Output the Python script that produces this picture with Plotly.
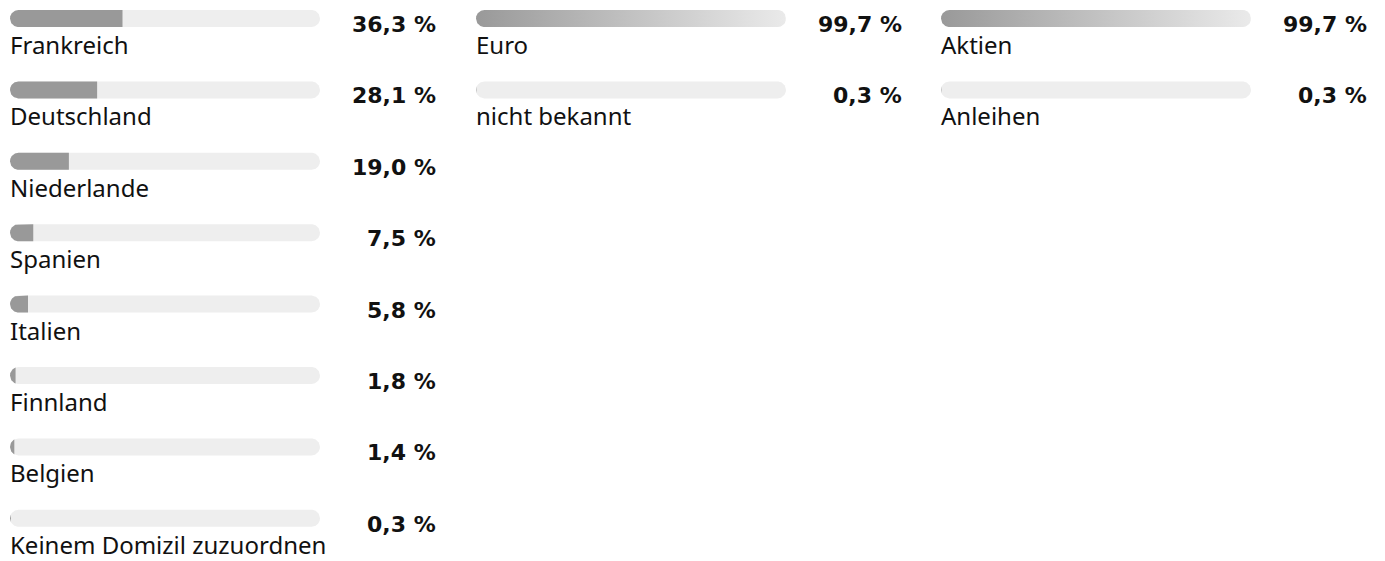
import numpy as np
import plotly.graph_objects as go

# ---------------- data ----------------
countries = ["Frankreich", "Deutschland", "Niederlande", "Spanien", "Italien",
             "Finnland", "Belgien", "Keinem Domizil zuzuordnen"]
country_values = [36.3, 28.1, 19.0, 7.5, 5.8, 1.8, 1.4, 0.3]

currencies = ["Euro", "nicht bekannt"]
currency_values = [99.7, 0.3]

asset_classes = ["Aktien", "Anleihen"]
asset_values = [99.7, 0.3]

# ---------------- geometry / style ----------------
W, H = 1385, 561
TRACK_LEFT_PX = [10, 476, 941]
TRACK_W_PX = 310
BAR_H_PX = 17
ROW_PX = 71.4
FIRST_CENTER_PX = 18.5
VALUE_RIGHT_OFFSET_PX = 427      # value text right edge, measured from track left
LABEL_OFF_PX = 26
VALUE_OFF_PX = 6

TRACK_COLOR = "#eeeeee"
FILL_COLOR = "#999999"
LABEL_FONT = "Noto Sans"
VALUE_FONT = "DejaVu Sans"

panels = [
    (countries, country_values, "solid"),
    (currencies, currency_values, "gradient"),
    (asset_classes, asset_values, "gradient"),
]

R = BAR_H_PX / 2


def clipped_stadium(value, row):
    """Outline of the rounded track clipped to [0, value] in data units."""
    L = TRACK_W_PX
    vp = value / 100.0 * L
    xs = np.concatenate([np.linspace(0, R, 30), np.linspace(L - R, L, 30), [vp]])
    xs = np.unique(xs[xs <= vp])

    def half(x):
        if x < R:
            return np.sqrt(max(R * R - (R - x) ** 2, 0))
        if x > L - R:
            return np.sqrt(max(R * R - (x - (L - R)) ** 2, 0))
        return R

    hs = np.array([half(x) for x in xs])
    px = np.concatenate([xs, xs[::-1]])
    py = np.concatenate([hs, -hs[::-1]])
    return list(px / L * 100.0), list(row + py / ROW_PX)


fig = go.Figure()
annotations = []

for p, (labels, values, style) in enumerate(panels):
    xa = "x" if p == 0 else f"x{p + 1}"
    rows = list(range(len(labels)))
    # background track (full 100 %)
    for r in rows:
        xs, ys = clipped_stadium(100, r)
        fig.add_trace(go.Scatter(
            x=xs, y=ys, fill="toself", mode="lines", line=dict(width=0),
            fillcolor=TRACK_COLOR, xaxis=xa, yaxis="y",
            hoverinfo="skip", showlegend=False,
        ))
    # value fill
    for r, v in zip(rows, values):
        xs, ys = clipped_stadium(v, r)
        kw = dict(fillcolor=FILL_COLOR)
        if style == "gradient":
            kw = dict(fillgradient=dict(type="horizontal",
                                        colorscale=[[0, "#999999"], [1, "#eaeaea"]],
                                        start=0, stop=v))
        fig.add_trace(go.Scatter(
            x=xs, y=ys, fill="toself", mode="lines", line=dict(width=0),
            xaxis=xa, yaxis="y", hoverinfo="skip", showlegend=False, **kw,
        ))
    for r, (lab, v) in enumerate(zip(labels, values)):
        annotations.append(dict(
            x=(TRACK_LEFT_PX[p] - 1.5) / W, y=r + LABEL_OFF_PX / ROW_PX,
            xref="paper", yref="y", borderpad=0,
            text=lab, showarrow=False, xanchor="left", yanchor="middle",
            font=dict(family=LABEL_FONT, size=24, color="#111111"),
        ))
        annotations.append(dict(
            x=(TRACK_LEFT_PX[p] + VALUE_RIGHT_OFFSET_PX) / W,
            y=r + VALUE_OFF_PX / ROW_PX,
            xref="paper", yref="y", borderpad=0,
            text="<b>" + f"{v:.1f}".replace(".", ",") + " %</b>",
            showarrow=False, xanchor="right", yanchor="middle",
            font=dict(family=VALUE_FONT, size=22, color="#111111"),
        ))

y_top = -FIRST_CENTER_PX / ROW_PX
y_bottom = (H - FIRST_CENTER_PX) / ROW_PX

layout_axes = {}
for p in range(3):
    name = "xaxis" if p == 0 else f"xaxis{p + 1}"
    left = TRACK_LEFT_PX[p] / W
    layout_axes[name] = dict(domain=[left, left + TRACK_W_PX / W], range=[0, 100],
                             visible=False, fixedrange=True, anchor="y")

fig.update_layout(
    width=W, height=H, autosize=False,
    margin=dict(l=0, r=0, t=0, b=0, pad=0),
    paper_bgcolor="white", plot_bgcolor="white",
    yaxis=dict(range=[y_bottom, y_top], visible=False, fixedrange=True, domain=[0, 1]),
    annotations=annotations,
    showlegend=False,
    **layout_axes,
)

fig.write_html("out.html", config={"displayModeBar": False},
               post_script="document.body.style.margin='0';document.body.style.overflow='hidden';")
